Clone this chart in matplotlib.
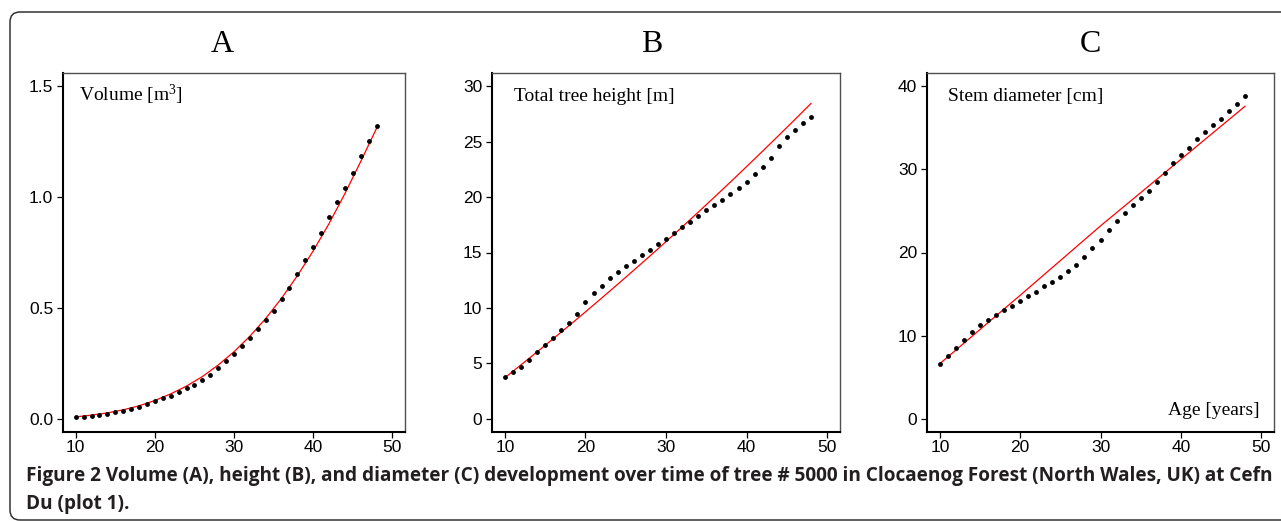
import matplotlib
matplotlib.use("Agg")
import matplotlib.pyplot as plt
from matplotlib.patches import FancyBboxPatch

# annual measurements, age 10..48
age = list(range(10, 49))
volume = [0.006, 0.009, 0.012, 0.017, 0.023, 0.029, 0.036, 0.045, 0.054, 0.065,
          0.078, 0.092, 0.104, 0.121, 0.137, 0.153, 0.174, 0.196, 0.227, 0.260,
          0.291, 0.329, 0.366, 0.403, 0.445, 0.488, 0.538, 0.590, 0.652, 0.716,
          0.775, 0.837, 0.908, 0.979, 1.039, 1.107, 1.187, 1.255, 1.320]
height = [3.72, 4.20, 4.71, 5.32, 5.98, 6.62, 7.31, 7.98, 8.67, 9.49,
          10.49, 11.33, 12.00, 12.66, 13.24, 13.75, 14.26, 14.75, 15.26, 15.77,
          16.26, 16.77, 17.29, 17.77, 18.28, 18.80, 19.28, 19.76, 20.28, 20.79,
          21.37, 22.06, 22.69, 23.54, 24.57, 25.39, 26.05, 26.72, 27.20]
diameter = [6.57, 7.57, 8.50, 9.47, 10.43, 11.24, 11.92, 12.53, 13.05, 13.61,
            14.22, 14.74, 15.27, 15.91, 16.39, 17.04, 17.76, 18.53, 19.46, 20.54,
            21.55, 22.72, 23.85, 24.81, 25.66, 26.55, 27.44, 28.48, 29.61, 30.73,
            31.70, 32.63, 33.63, 34.56, 35.33, 36.06, 36.98, 37.82, 38.79]

# fitted curves (red)
fit_age = list(range(10, 49, 2))
volume_fit = [0.008, 0.016, 0.026, 0.040, 0.058, 0.082, 0.112, 0.147, 0.190, 0.242,
              0.302, 0.372, 0.452, 0.543, 0.645, 0.757, 0.880, 1.015, 1.160, 1.310]
height_fit = [3.70, 4.86, 6.03, 7.22, 8.42, 9.64, 10.88, 12.13, 13.40, 14.68,
              15.98, 17.30, 18.64, 19.99, 21.36, 22.75, 24.15, 25.57, 27.00, 28.45]
diam_fit_age = [10, 20, 30, 40, 48]
diameter_fit = [6.62, 14.85, 23.2, 31.2, 37.6]

panels = [
    ("A", "Volume [m$^3$]", volume, fit_age, volume_fit, [0.0, 0.5, 1.0, 1.5], ["0.0", "0.5", "1.0", "1.5"], (-0.06, 1.56)),
    ("B", "Total tree height [m]", height, fit_age, height_fit, [0, 5, 10, 15, 20, 25, 30], None, (-1.2, 31.2)),
    ("C", "Stem diameter [cm]", diameter, diam_fit_age, diameter_fit, [0, 10, 20, 30, 40], None, (-1.6, 41.6)),
]

plt.rcParams["mathtext.fontset"] = "custom"
plt.rcParams["mathtext.rm"] = "Liberation Serif"
plt.rcParams["mathtext.it"] = "Liberation Serif:italic"

W, H = 1281, 521
fig = plt.figure(figsize=(W / 100, H / 100), dpi=100)

# px: left, right of each axes; top 73, bottom 432
boxes = [(63, 405), (492, 840), (927, 1274)]
title_x = [222, 652, 1090]
label_x = [79, 514, 948]
top, bottom = 73, 432

for i, (letter, lab, ys, fx, fy, yt, ytl, ylim) in enumerate(panels):
    l, r = boxes[i]
    ax = fig.add_axes([l / W, 1 - bottom / H, (r - l) / W, (bottom - top) / H])
    ax.plot(fx, fy, color="#ff0000", lw=0.9, zorder=2)
    ax.plot(age, ys, "o", color="black", ms=3.5, mec="none", zorder=3)
    ax.set_xlim(8.4, 51.6)
    ax.set_ylim(*ylim)
    ax.set_xticks([10, 20, 30, 40, 50])
    ax.set_yticks(yt)
    if ytl:
        ax.set_yticklabels(ytl)
    for s in ["left", "bottom"]:
        ax.spines[s].set_color("black")
        ax.spines[s].set_linewidth(1.5)
    for s in ["top", "right"]:
        ax.spines[s].set_color("#505050")
        ax.spines[s].set_linewidth(1.0)
    ax.tick_params(direction="out", length=4, width=0.9, labelsize=12.5,
                   colors="black", pad=3)
    ax.tick_params(axis="x", pad=1.5)
    for t in ax.get_xticklabels() + ax.get_yticklabels():
        t.set_fontfamily("Liberation Sans")
    fig.text(title_x[i] / W, 1 - 44 / H, letter, ha="center", va="center",
             fontsize=23, family="Liberation Serif")
    fig.text(label_x[i] / W, 1 - 101 / H, lab, ha="left", va="baseline",
             fontsize=14, family="Liberation Serif")

fig.text(1260 / W, 1 - 415 / H, "Age [years]", ha="right", va="baseline",
         fontsize=14, family="Liberation Serif")

cap1 = ("Figure 2 Volume (A), height (B), and diameter (C) development over time of tree # 5000 "
        "in Clocaenog Forest (North Wales, UK) at Cefn")
cap2 = "Du (plot 1)."
fig.text(26 / W, 1 - 481 / H, cap1, ha="left", va="baseline", fontsize=13.7,
         family="Open Sans", weight="bold", color="#231f20")
fig.text(26 / W, 1 - 509 / H, cap2, ha="left", va="baseline", fontsize=13.7,
         family="Open Sans", weight="bold", color="#231f20")

frame = FancyBboxPatch((0.10, 0.01), 13.5, 5.08, boxstyle="round,pad=0,rounding_size=0.1",
                       transform=fig.dpi_scale_trans, fill=False, ec="#333333", lw=1.1)
fig.patches.append(frame)

fig.savefig("out.png", dpi=100)
